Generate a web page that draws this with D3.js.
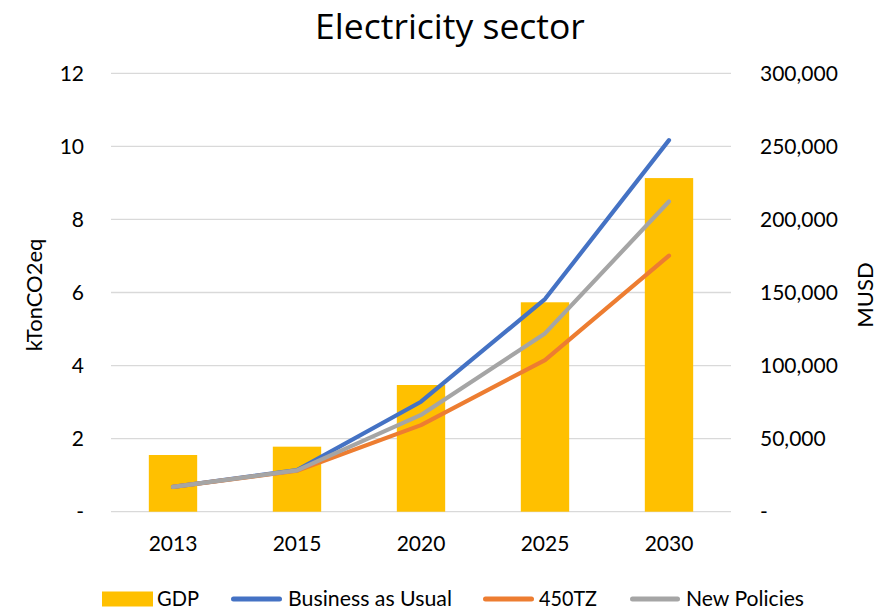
<!DOCTYPE html>
<html>
<head>
<meta charset="utf-8">
<script src="https://cdn.jsdelivr.net/npm/d3@7/dist/d3.min.js"></script>
<style>
  html, body { margin: 0; padding: 0; background: #fff; }
  svg { display: block; }
  .tick text { font-family: Lato, "Open Sans", sans-serif; font-size: 21px; fill: #000; }
</style>
</head>
<body>
<svg id="chart" width="885" height="609"></svg>
<script>
// Years on the category axis
const years = ["2013", "2015", "2020", "2025", "2030"];
// GDP (MUSD, right axis)
const gdp = [38800, 44500, 86700, 143300, 228300];
// Emission scenarios (kTonCO2eq, left axis)
const businessAsUsual = [0.68, 1.14, 3.01, 5.82, 10.17];
const tz450 = [0.68, 1.12, 2.37, 4.15, 7.01];
const newPolicies = [0.68, 1.13, 2.65, 4.88, 8.49];
// Axis ticks
const leftTicks = [0, 2, 4, 6, 8, 10, 12];
const rightTicks = [0, 50000, 100000, 150000, 200000, 250000, 300000];

const series = [
  { name: "Business as Usual", values: businessAsUsual, color: "#4472C4" },
  { name: "450TZ", values: tz450, color: "#ED7D31" },
  { name: "New Policies", values: newPolicies, color: "#A5A5A5" }
];
const barColor = "#FFC000";

const svg = d3.select("#chart");
const plot = { left: 111, right: 731, top: 73.3, bottom: 511.7 };

const x = d3.scaleBand().domain(years).range([plot.left, plot.right]).padding(0);
const yLeft = d3.scaleLinear().domain([0, 12]).range([plot.bottom, plot.top]);
const yRight = d3.scaleLinear().domain([0, 300000]).range([plot.bottom, plot.top]);

// Title
svg.append("text")
  .attr("x", 450).attr("y", 39)
  .attr("text-anchor", "middle")
  .style("font-family", "'Open Sans', sans-serif")
  .style("font-size", "35.5px")
  .style("fill", "#000")
  .text("Electricity sector");

// Horizontal gridlines
svg.append("g")
  .selectAll("line")
  .data(leftTicks)
  .join("line")
  .attr("x1", plot.left).attr("x2", plot.right)
  .attr("y1", d => yLeft(d)).attr("y2", d => yLeft(d))
  .attr("stroke", "#D9D9D9")
  .attr("stroke-width", 1.3);

// Left axis
const fmtLeft = d => d === 0 ? "-" : d3.format("d")(d);
const gLeft = svg.append("g")
  .attr("transform", `translate(${plot.left},0)`)
  .call(d3.axisLeft(yLeft).tickValues(leftTicks).tickFormat(fmtLeft).tickSize(0).tickPadding(27));
gLeft.select(".domain").remove();

// Right axis
const fmtRight = d => d === 0 ? "-" : d3.format(",")(d);
const gRight = svg.append("g")
  .attr("transform", `translate(${plot.right},0)`)
  .call(d3.axisRight(yRight).tickValues(rightTicks).tickFormat(fmtRight).tickSize(0).tickPadding(29));
gRight.select(".domain").remove();

// Category axis
const gX = svg.append("g")
  .attr("transform", `translate(0,${plot.bottom})`)
  .call(d3.axisBottom(x).tickSize(0).tickPadding(24));
gX.select(".domain").remove();
gX.selectAll(".tick text").attr("dy", "0.71em");

// Axis titles
svg.append("text")
  .attr("transform", `translate(42,295) rotate(-90)`)
  .attr("text-anchor", "middle")
  .style("font-family", "Lato, 'Open Sans', sans-serif")
  .style("font-size", "22px")
  .text("kTonCO2eq");
svg.append("text")
  .attr("transform", `translate(873,295) rotate(-90)`)
  .attr("text-anchor", "middle")
  .style("font-family", "Lato, 'Open Sans', sans-serif")
  .style("font-size", "22px")
  .text("MUSD");

// GDP bars
const barW = x.bandwidth() * 0.39;
svg.append("g")
  .selectAll("rect")
  .data(years.map((yr, i) => ({ yr, v: gdp[i] })))
  .join("rect")
  .attr("x", d => x(d.yr) + x.bandwidth() / 2 - barW / 2)
  .attr("width", barW)
  .attr("y", d => yRight(d.v))
  .attr("height", d => yRight(0) - yRight(d.v))
  .attr("fill", barColor);

// Scenario lines
const line = d3.line()
  .x((d, i) => x(years[i]) + x.bandwidth() / 2)
  .y(d => yLeft(d));
svg.append("g")
  .selectAll("path")
  .data(series)
  .join("path")
  .attr("d", d => line(d.values))
  .attr("fill", "none")
  .attr("stroke", d => d.color)
  .attr("stroke-width", 4.2)
  .attr("stroke-linecap", "round")
  .attr("stroke-linejoin", "round");

// Legend
const legendY = 599;
const legendItems = [
  { name: "GDP", type: "bar", color: barColor, x0: 102, x1: 153, tx: 157, tw: 42 },
  { name: "Business as Usual", type: "line", color: "#4472C4", x0: 231, x1: 282, tx: 288, tw: 164 },
  { name: "450TZ", type: "line", color: "#ED7D31", x0: 483, x1: 534, tx: 539, tw: 58 },
  { name: "New Policies", type: "line", color: "#A5A5A5", x0: 630, x1: 680, tx: 686, tw: 118 }
];
const lg = svg.append("g");
legendItems.forEach(it => {
  if (it.type === "bar") {
    lg.append("rect").attr("x", it.x0).attr("y", legendY - 7.5)
      .attr("width", it.x1 - it.x0).attr("height", 15).attr("fill", it.color);
  } else {
    lg.append("line").attr("x1", it.x0 + 2.5).attr("x2", it.x1 - 2.5)
      .attr("y1", legendY).attr("y2", legendY)
      .attr("stroke", it.color).attr("stroke-width", 5).attr("stroke-linecap", "round");
  }
  lg.append("text")
    .attr("x", it.tx).attr("y", legendY + 7)
    .attr("textLength", it.tw).attr("lengthAdjust", "spacingAndGlyphs")
    .style("font-family", "Lato, 'Open Sans', sans-serif")
    .style("font-size", "21px")
    .text(it.name);
});
</script>
</body>
</html>
